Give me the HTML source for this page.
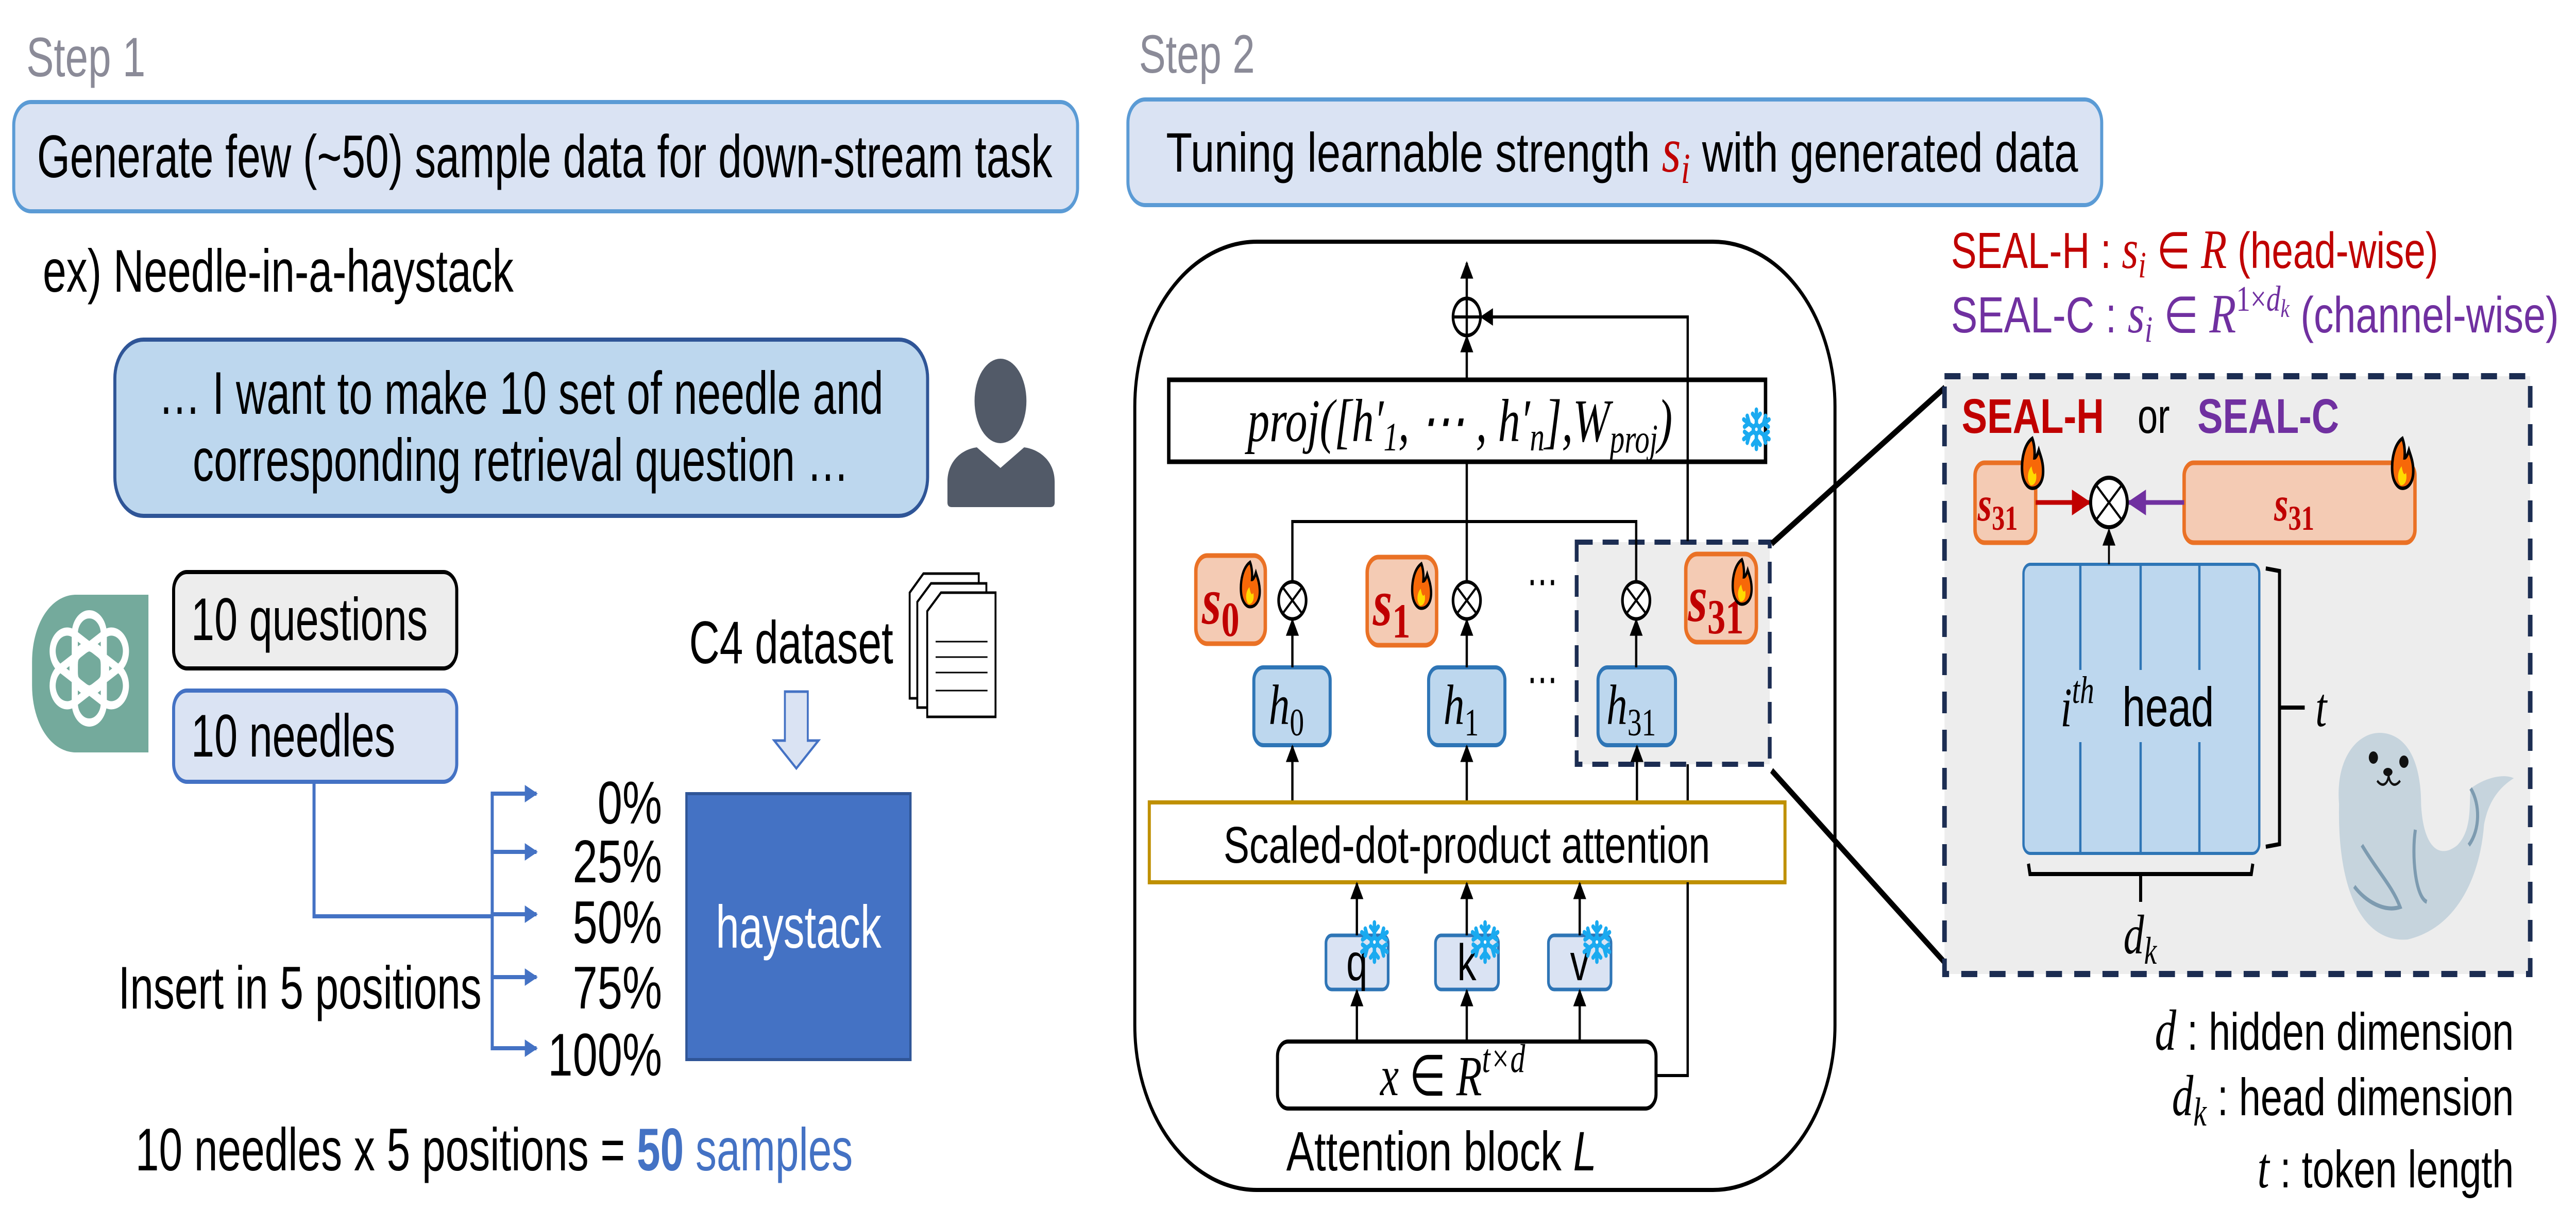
<!DOCTYPE html>
<html><head><meta charset="utf-8"><style>
html,body{margin:0;padding:0;background:#fff;overflow:hidden;width:100vw;height:100vh;}
svg{display:block;width:100vw;height:100vh;}
</style></head><body>
<svg xmlns="http://www.w3.org/2000/svg" viewBox="0 0 6751 2377" preserveAspectRatio="none">
<defs>
<marker id="ab2" viewBox="0 0 10 10" refX="9" refY="5" markerWidth="38" markerHeight="34" markerUnits="userSpaceOnUse" orient="auto"><path d="M0,0 L10,5 L0,10 z" fill="#000"/></marker>
<marker id="abl" viewBox="0 0 10 10" refX="9" refY="5" markerWidth="40" markerHeight="34" markerUnits="userSpaceOnUse" orient="auto"><path d="M0,0 L10,5 L0,10 z" fill="#4472c4"/></marker>
<marker id="abr" viewBox="0 0 10 10" refX="9" refY="5" markerWidth="50" markerHeight="50" markerUnits="userSpaceOnUse" orient="auto"><path d="M0,0 L10,5 L0,10 z" fill="#c00000"/></marker>
<marker id="abp" viewBox="0 0 10 10" refX="9" refY="5" markerWidth="50" markerHeight="50" markerUnits="userSpaceOnUse" orient="auto"><path d="M0,0 L10,5 L0,10 z" fill="#7030a0"/></marker>
<g id="flame">
<path d="M0,-52 C-22,-40 -30,-10 -28,15 C-26,38 -12,50 0,50 C16,50 30,38 30,15 C30,-5 22,-18 18,-28 C14,-18 10,-12 6,-12 C8,-30 4,-44 0,-52 z" fill="#f76808" stroke="#000" stroke-width="7"/>
<path d="M-2,5 C-14,15 -16,35 -4,44 C8,44 14,32 10,18 C6,24 2,22 -2,5 z" fill="#ffd900"/>
</g>
<g id="snow" stroke="#1aaaf0" stroke-width="9" fill="none" stroke-linecap="round">
<line x1="0" y1="-38" x2="0" y2="38"/><line x1="-33" y1="-19" x2="33" y2="19"/><line x1="-33" y1="19" x2="33" y2="-19"/>
<path d="M-10,-30 L0,-20 L10,-30 M-10,30 L0,20 L10,30"/>
<path d="M-31,-5 L-19,-12 L-24,-26 M31,5 L19,12 L24,26 M-31,5 L-19,12 L-24,26 M31,-5 L19,-12 L24,-26"/>
<circle cx="0" cy="0" r="8" fill="#fff"/>
</g>
</defs>

<text x="69" y="148" font-family="Liberation Sans, sans-serif" font-size="108" fill="#8b8b98">Step 1</text>
<rect x="36" y="198" width="2788" height="212" rx="45" fill="#dae3f3" stroke="#5b9bd5" stroke-width="8"/>
<text x="97" y="344" font-family="Liberation Sans Narrow, Liberation Sans, sans-serif" font-size="117" textLength="2661" lengthAdjust="spacingAndGlyphs">Generate few (~50) sample data for down-stream task</text>
<text x="112" y="566" font-family="Liberation Sans Narrow, Liberation Sans, sans-serif" font-size="117" textLength="1234" lengthAdjust="spacingAndGlyphs">ex) Needle-in-a-haystack</text>

<rect x="301" y="659" width="2130" height="342" rx="75" fill="#bdd7ee" stroke="#2f5597" stroke-width="8"/>
<text x="415" y="803" font-family="Liberation Sans Narrow, Liberation Sans, sans-serif" font-size="117" textLength="1900" lengthAdjust="spacingAndGlyphs">… I want to make 10 set of needle and</text>
<text x="505" y="933" font-family="Liberation Sans Narrow, Liberation Sans, sans-serif" font-size="117" textLength="1720" lengthAdjust="spacingAndGlyphs">corresponding retrieval question …</text>

<ellipse cx="2622" cy="778" rx="68" ry="82" fill="#525a68"/>
<path d="M2483,975 L2483,935 C2483,895 2520,872 2560,868 L2622,908 L2684,868 C2725,872 2764,895 2764,935 L2764,975 C2764,982 2758,984 2752,984 L2495,984 C2488,984 2483,982 2483,975 z" fill="#525a68"/>

<path d="M200,1154 L389,1154 L389,1460 L200,1460 C130,1460 84,1400 84,1330 L84,1284 C84,1214 130,1154 200,1154 z" fill="#74aa9c"/>
<g transform="translate(234,1297)" fill="none" stroke="#fff" stroke-width="16">
<rect x="-38" y="-105" width="76" height="150" rx="38" transform="rotate(0)"/>
<rect x="-38" y="-105" width="76" height="150" rx="38" transform="rotate(60)"/>
<rect x="-38" y="-105" width="76" height="150" rx="38" transform="rotate(120)"/>
<rect x="-38" y="-105" width="76" height="150" rx="38" transform="rotate(180)"/>
<rect x="-38" y="-105" width="76" height="150" rx="38" transform="rotate(240)"/>
<rect x="-38" y="-105" width="76" height="150" rx="38" transform="rotate(300)"/>
</g>

<rect x="455" y="1110" width="742" height="187" rx="35" fill="#ededed" stroke="#000" stroke-width="8"/>
<text x="501" y="1242" font-family="Liberation Sans Narrow, Liberation Sans, sans-serif" font-size="117" textLength="620" lengthAdjust="spacingAndGlyphs">10 questions</text>
<rect x="455" y="1340" width="742" height="177" rx="35" fill="#dae3f3" stroke="#4472c4" stroke-width="8"/>
<text x="501" y="1468" font-family="Liberation Sans Narrow, Liberation Sans, sans-serif" font-size="117" textLength="535" lengthAdjust="spacingAndGlyphs">10 needles</text>

<g stroke="#4472c4" stroke-width="8" fill="none">
<polyline points="823,1517 823,1778 1290,1778"/>
<line x1="1290" y1="1540" x2="1290" y2="2034"/>
<line x1="1286" y1="1540" x2="1406" y2="1540" marker-end="url(#abl)"/>
<line x1="1286" y1="1653" x2="1406" y2="1653" marker-end="url(#abl)"/>
<line x1="1286" y1="1774" x2="1406" y2="1774" marker-end="url(#abl)"/>
<line x1="1286" y1="1896" x2="1406" y2="1896" marker-end="url(#abl)"/>
<line x1="1286" y1="2034" x2="1406" y2="2034" marker-end="url(#abl)"/>
</g>
<g font-family="Liberation Sans Narrow, Liberation Sans, sans-serif" font-size="117" text-anchor="end">
<text x="1735" y="1598">0%</text>
<text x="1735" y="1712">25%</text>
<text x="1735" y="1830">50%</text>
<text x="1735" y="1957">75%</text>
<text x="1735" y="2087">100%</text>
</g>
<text x="310" y="1957" font-family="Liberation Sans Narrow, Liberation Sans, sans-serif" font-size="117" textLength="952" lengthAdjust="spacingAndGlyphs">Insert in 5 positions</text>

<rect x="1799" y="1540" width="587" height="516" fill="#4472c4" stroke="#2f5597" stroke-width="6"/>
<text x="2093" y="1839" font-family="Liberation Sans Narrow, Liberation Sans, sans-serif" font-size="117" fill="#fff" text-anchor="middle" textLength="434" lengthAdjust="spacingAndGlyphs">haystack</text>

<text x="1806" y="1287" font-family="Liberation Sans Narrow, Liberation Sans, sans-serif" font-size="117" textLength="535" lengthAdjust="spacingAndGlyphs">C4 dataset</text>
<path d="M2057,1342 L2117,1342 L2117,1437 L2145,1437 L2087,1491 L2029,1437 L2057,1437 z" fill="#dae3f3" stroke="#4472c4" stroke-width="5"/>
<g fill="#fff" stroke="#000" stroke-width="5">
<path d="M2420,1113 L2565,1113 L2565,1355 L2384,1355 L2384,1150 z"/>
<path d="M2440,1132 L2585,1132 L2585,1373 L2404,1373 L2404,1168 z"/>
<path d="M2466,1150 L2609,1150 L2609,1391 L2430,1391 L2430,1186 z"/>
</g>
<g stroke="#000" stroke-width="3">
<line x1="2452" y1="1245" x2="2588" y2="1245"/><line x1="2452" y1="1275" x2="2588" y2="1275"/>
<line x1="2452" y1="1305" x2="2588" y2="1305"/><line x1="2452" y1="1340" x2="2588" y2="1340"/>
</g>

<text x="355" y="2271" font-family="Liberation Sans Narrow, Liberation Sans, sans-serif" font-size="117" textLength="1880" lengthAdjust="spacingAndGlyphs">10 needles x 5 positions = <tspan fill="#4472c4" font-weight="bold">50</tspan><tspan fill="#4472c4"> samples</tspan></text>

<text x="2985" y="141" font-family="Liberation Sans, sans-serif" font-size="105" fill="#8b8b98">Step 2</text>
<rect x="2956" y="193" width="2552" height="205" rx="45" fill="#dae3f3" stroke="#5b9bd5" stroke-width="8"/>
<text x="3056" y="333" font-family="Liberation Sans, sans-serif" font-size="108" textLength="2390" lengthAdjust="spacingAndGlyphs">Tuning learnable strength <tspan font-family="Liberation Serif, serif" font-style="italic" fill="#c00000" font-size="124">s</tspan><tspan font-family="Liberation Serif, serif" font-style="italic" fill="#c00000" font-size="84" dy="22">i</tspan><tspan dy="-22"> with generated data</tspan></text>

<rect x="2974" y="469" width="1835" height="1840" rx="320" fill="none" stroke="#000" stroke-width="8"/>

<polyline points="4340,2087 4423,2087 4423,615 3882,615" fill="none" stroke="#000" stroke-width="6" marker-end="url(#ab2)"/>
<rect x="4132" y="1052" width="506" height="431" fill="#ededed" stroke="#1c2d52" stroke-width="10" stroke-dasharray="42,26"/>
<line x1="4423" y1="1050" x2="4423" y2="896" stroke="#000" stroke-width="6"/>

<circle cx="3844" cy="615" r="36" fill="#fff" stroke="#000" stroke-width="7"/>
<line x1="3808" y1="615" x2="3880" y2="615" stroke="#000" stroke-width="6"/>
<line x1="3844" y1="579" x2="3844" y2="651" stroke="#000" stroke-width="6"/>
<line x1="3844" y1="579" x2="3844" y2="510" stroke="#000" stroke-width="6" marker-end="url(#ab2)"/>
<line x1="3844" y1="737" x2="3844" y2="653" stroke="#000" stroke-width="6" marker-end="url(#ab2)"/>

<rect x="3063" y="737" width="1564" height="159" fill="#fff" stroke="#000" stroke-width="9"/>
<line x1="4423" y1="737" x2="4423" y2="896" stroke="#000" stroke-width="6"/>
<text x="3269" y="856" font-family="Liberation Serif, serif" font-style="italic" font-size="118" textLength="1114" lengthAdjust="spacingAndGlyphs">proj([h′<tspan font-size="78" dy="18">1</tspan><tspan dy="-18">, ⋯ , h′</tspan><tspan font-size="78" dy="18">n</tspan><tspan dy="-18">],W</tspan><tspan font-size="78" dy="22">proj</tspan><tspan dy="-22">)</tspan></text>
<use href="#snow" x="4603" y="833"/>

<g stroke="#000" stroke-width="6" fill="none">
<line x1="3844" y1="896" x2="3844" y2="1128"/>
<polyline points="3387,1128 3387,1012 4288,1012 4288,1128"/>
</g>
<g stroke="#000" stroke-width="7" fill="#fff">
<circle cx="3387" cy="1165" r="36"/><circle cx="3844" cy="1165" r="36"/><circle cx="4288" cy="1165" r="36"/>
</g>
<g stroke="#000" stroke-width="5">
<path d="M3362,1140 L3412,1190 M3412,1140 L3362,1190"/>
<path d="M3819,1140 L3869,1190 M3869,1140 L3819,1190"/>
<path d="M4263,1140 L4313,1190 M4313,1140 L4263,1190"/>
</g>
<g fill="#f4cbb4" stroke="#ea7125" stroke-width="9">
<rect x="3134" y="1078" width="182" height="171" rx="30"/>
<rect x="3583" y="1081" width="182" height="171" rx="30"/>
<rect x="4418" y="1075" width="185" height="171" rx="30"/>
</g>
<g font-family="Liberation Serif, serif" font-weight="bold" fill="#c00000">
<text x="3150" y="1210" font-size="130" font-style="italic">s<tspan font-style="normal" font-size="95" dy="24">0</tspan></text>
<text x="3598" y="1213" font-size="130" font-style="italic">s<tspan font-style="normal" font-size="95" dy="24">1</tspan></text>
<text x="4424" y="1205" font-size="130" font-style="italic">s<tspan font-style="normal" font-size="95" dy="24">31</tspan></text>
</g>
<use href="#flame" transform="translate(3276,1135) scale(0.85)"/>
<use href="#flame" transform="translate(3725,1138) scale(0.85)"/>
<use href="#flame" transform="translate(4565,1130) scale(0.85)"/>

<text x="4042" y="1155" font-family="Liberation Sans, sans-serif" font-size="80" text-anchor="middle">⋯</text>
<text x="4042" y="1345" font-family="Liberation Sans, sans-serif" font-size="80" text-anchor="middle">⋯</text>

<g fill="#bdd7ee" stroke="#2e75b6" stroke-width="8">
<rect x="3286" y="1295" width="200" height="151" rx="25"/>
<rect x="3744" y="1295" width="200" height="151" rx="25"/>
<rect x="4188" y="1295" width="203" height="151" rx="25"/>
</g>
<g font-family="Liberation Serif, serif" font-style="italic" font-size="110">
<text x="3325" y="1405">h<tspan font-style="normal" font-size="75" dy="22">0</tspan></text>
<text x="3783" y="1405">h<tspan font-style="normal" font-size="75" dy="22">1</tspan></text>
<text x="4210" y="1405">h<tspan font-style="normal" font-size="75" dy="22">31</tspan></text>
</g>
<g stroke="#000" stroke-width="6">
<line x1="3387" y1="1295" x2="3387" y2="1203" marker-end="url(#ab2)"/>
<line x1="3844" y1="1295" x2="3844" y2="1203" marker-end="url(#ab2)"/>
<line x1="4288" y1="1295" x2="4288" y2="1203" marker-end="url(#ab2)"/>
<line x1="3387" y1="1557" x2="3387" y2="1448" marker-end="url(#ab2)"/>
<line x1="3844" y1="1557" x2="3844" y2="1448" marker-end="url(#ab2)"/>
<line x1="4290" y1="1557" x2="4290" y2="1448" marker-end="url(#ab2)"/>
</g>

<rect x="3012" y="1557" width="1666" height="155" fill="#fff" stroke="#bf9000" stroke-width="8"/>
<text x="3844" y="1674" font-family="Liberation Sans, sans-serif" font-size="100" text-anchor="middle" textLength="1275" lengthAdjust="spacingAndGlyphs">Scaled-dot-product attention</text>
<line x1="4423" y1="1712" x2="4423" y2="2087" stroke="#000" stroke-width="6"/>

<g fill="#dae3f3" stroke="#2e75b6" stroke-width="7">
<rect x="3475" y="1815" width="163" height="105" rx="15"/>
<rect x="3762" y="1815" width="165" height="105" rx="15"/>
<rect x="4058" y="1815" width="164" height="105" rx="15"/>
</g>
<g font-family="Liberation Sans, sans-serif" font-size="100" text-anchor="middle">
<text x="3556" y="1902">q</text><text x="3844" y="1902">k</text><text x="4140" y="1902">v</text>
</g>
<use href="#snow" x="3602" y="1828"/>
<use href="#snow" x="3892" y="1828"/>
<use href="#snow" x="4185" y="1828"/>
<g stroke="#000" stroke-width="6">
<line x1="3556" y1="1815" x2="3556" y2="1714" marker-end="url(#ab2)"/>
<line x1="3844" y1="1815" x2="3844" y2="1714" marker-end="url(#ab2)"/>
<line x1="4140" y1="1815" x2="4140" y2="1714" marker-end="url(#ab2)"/>
<line x1="3556" y1="2021" x2="3556" y2="1922" marker-end="url(#ab2)"/>
<line x1="3844" y1="2021" x2="3844" y2="1922" marker-end="url(#ab2)"/>
<line x1="4140" y1="2021" x2="4140" y2="1922" marker-end="url(#ab2)"/>
</g>

<rect x="3348" y="2021" width="992" height="130" rx="28" fill="#fff" stroke="#000" stroke-width="8"/>
<text x="3617" y="2125" font-family="Liberation Serif, serif" font-style="italic" font-size="110">x <tspan font-style="normal">∈</tspan> R<tspan font-size="78" dy="-45">t×d</tspan></text>
<text x="3371" y="2271" font-family="Liberation Sans, sans-serif" font-size="108" textLength="813" lengthAdjust="spacingAndGlyphs">Attention block <tspan font-style="italic">L</tspan></text>

<line x1="4643" y1="1055" x2="5097" y2="752" stroke="#000" stroke-width="12"/>
<line x1="4643" y1="1495" x2="5097" y2="1868" stroke="#000" stroke-width="12"/>

<text x="5113" y="520" font-family="Liberation Sans, sans-serif" font-size="98" fill="#c00000" textLength="1277" lengthAdjust="spacingAndGlyphs">SEAL-H : <tspan font-family="Liberation Serif, serif" font-style="italic" font-size="108">s</tspan><tspan font-family="Liberation Serif, serif" font-style="italic" font-size="72" dy="18">i</tspan><tspan dy="-18"> ∈ </tspan><tspan font-family="Liberation Serif, serif" font-style="italic" font-size="108">R</tspan> (head-wise)</text>
<text x="5113" y="645" font-family="Liberation Sans, sans-serif" font-size="98" fill="#7030a0" textLength="1593" lengthAdjust="spacingAndGlyphs">SEAL-C : <tspan font-family="Liberation Serif, serif" font-style="italic" font-size="108">s</tspan><tspan font-family="Liberation Serif, serif" font-style="italic" font-size="72" dy="18">i</tspan><tspan dy="-18"> ∈ </tspan><tspan font-family="Liberation Serif, serif" font-style="italic" font-size="108">R</tspan><tspan font-family="Liberation Serif, serif" font-size="70" dy="-42">1×<tspan font-style="italic">d</tspan></tspan><tspan font-family="Liberation Serif, serif" font-style="italic" font-size="50" dy="12">k</tspan><tspan dy="30"> (channel-wise)</tspan></text>

<rect x="5096" y="730" width="1535" height="1160" fill="#ededed" stroke="#1c2d52" stroke-width="12" stroke-dasharray="42,32"/>
<text x="5141" y="840" font-family="Liberation Sans, sans-serif" font-size="95" font-weight="bold" fill="#c00000" textLength="373" lengthAdjust="spacingAndGlyphs">SEAL-H</text>
<text x="5602" y="840" font-family="Liberation Sans, sans-serif" font-size="95">or</text>
<text x="5759" y="840" font-family="Liberation Sans, sans-serif" font-size="95" font-weight="bold" fill="#7030a0" textLength="371" lengthAdjust="spacingAndGlyphs">SEAL-C</text>

<rect x="5176" y="898" width="159" height="155" rx="25" fill="#f4cbb4" stroke="#ea7125" stroke-width="9"/>
<rect x="5724" y="898" width="605" height="155" rx="25" fill="#f4cbb4" stroke="#ea7125" stroke-width="9"/>
<g font-family="Liberation Serif, serif" font-weight="bold" fill="#c00000">
<text x="5183" y="1010" font-size="95" font-style="italic">s<tspan font-style="normal" font-size="68" dy="18">31</tspan></text>
<text x="5960" y="1010" font-size="95" font-style="italic">s<tspan font-style="normal" font-size="68" dy="18">31</tspan></text>
</g>
<use href="#flame" transform="translate(5326,900) scale(0.95)"/>
<use href="#flame" transform="translate(6296,900) scale(0.95)"/>
<line x1="5335" y1="975" x2="5475" y2="975" stroke="#c00000" stroke-width="9" marker-end="url(#abr)"/>
<line x1="5724" y1="975" x2="5579" y2="975" stroke="#7030a0" stroke-width="9" marker-end="url(#abp)"/>
<circle cx="5527" cy="975" r="48" fill="#fff" stroke="#000" stroke-width="8"/>
<path d="M5493,941 L5561,1009 M5561,941 L5493,1009" stroke="#000" stroke-width="5"/>

<rect x="5303" y="1095" width="618" height="561" rx="18" fill="#bdd7ee" stroke="#2e75b6" stroke-width="6"/>
<g stroke="#2e75b6" stroke-width="6">
<line x1="5452" y1="1095" x2="5452" y2="1300"/><line x1="5452" y1="1440" x2="5452" y2="1656"/>
<line x1="5610" y1="1095" x2="5610" y2="1300"/><line x1="5610" y1="1440" x2="5610" y2="1656"/>
<line x1="5764" y1="1095" x2="5764" y2="1300"/><line x1="5764" y1="1440" x2="5764" y2="1656"/>
</g>
<text x="5400" y="1409" font-family="Liberation Serif, serif" font-style="italic" font-size="108">i<tspan font-size="75" dy="-45">th</tspan></text>
<text x="5562" y="1409" font-family="Liberation Sans, sans-serif" font-size="108">head</text>
<line x1="5527" y1="1095" x2="5527" y2="1028" stroke="#000" stroke-width="5" marker-end="url(#ab2)"/>

<path d="M5938,1103 L5974,1108 L5974,1638 L5938,1643 M5974,1373 L6040,1373" fill="none" stroke="#000" stroke-width="8"/>
<text x="6068" y="1409" font-family="Liberation Serif, serif" font-style="italic" font-size="108">t</text>
<path d="M5316,1676 L5320,1696 L5900,1696 L5904,1676 M5610,1696 L5610,1750" fill="none" stroke="#000" stroke-width="8"/>
<text x="5565" y="1850" font-family="Liberation Serif, serif" font-style="italic" font-size="108">d<tspan font-size="75" dy="20">k</tspan></text>

<g>
<path d="M6130,1560 C6120,1470 6180,1420 6240,1422 C6310,1425 6345,1480 6345,1560 C6350,1640 6390,1670 6440,1640 C6480,1610 6470,1560 6475,1530 C6510,1510 6560,1500 6588,1510 C6545,1530 6520,1560 6510,1600 C6500,1700 6440,1800 6310,1823 C6200,1830 6125,1740 6130,1560 z" fill="#c6d4dd"/>
<path d="M6475,1530 C6500,1560 6500,1610 6470,1640" fill="none" stroke="#7d9bb0" stroke-width="8"/>
<path d="M6190,1640 C6230,1690 6270,1720 6290,1760 C6250,1770 6200,1750 6170,1720" fill="none" stroke="#7d9bb0" stroke-width="8"/>
<path d="M6330,1610 C6320,1660 6330,1740 6360,1750" fill="none" stroke="#7d9bb0" stroke-width="8"/>
<circle cx="6220" cy="1470" r="12" fill="#111"/><circle cx="6300" cy="1478" r="12" fill="#111"/>
<ellipse cx="6258" cy="1498" rx="12" ry="8" fill="#111"/>
<path d="M6230,1515 C6245,1530 6258,1520 6260,1505 C6262,1520 6275,1530 6290,1515" fill="none" stroke="#111" stroke-width="5"/>
</g>

<g font-family="Liberation Sans, sans-serif" font-size="102" text-anchor="end">
<text x="6588" y="2037"><tspan font-family="Liberation Serif, serif" font-style="italic" font-size="112">d</tspan> : hidden dimension</text>
<text x="6588" y="2164"><tspan font-family="Liberation Serif, serif" font-style="italic" font-size="112">d</tspan><tspan font-family="Liberation Serif, serif" font-style="italic" font-size="78" dy="20">k</tspan><tspan dy="-20"> : head dimension</tspan></text>
<text x="6588" y="2304"><tspan font-family="Liberation Serif, serif" font-style="italic" font-size="112">t</tspan> : token length</text>
</g>
</svg>
</body></html>
